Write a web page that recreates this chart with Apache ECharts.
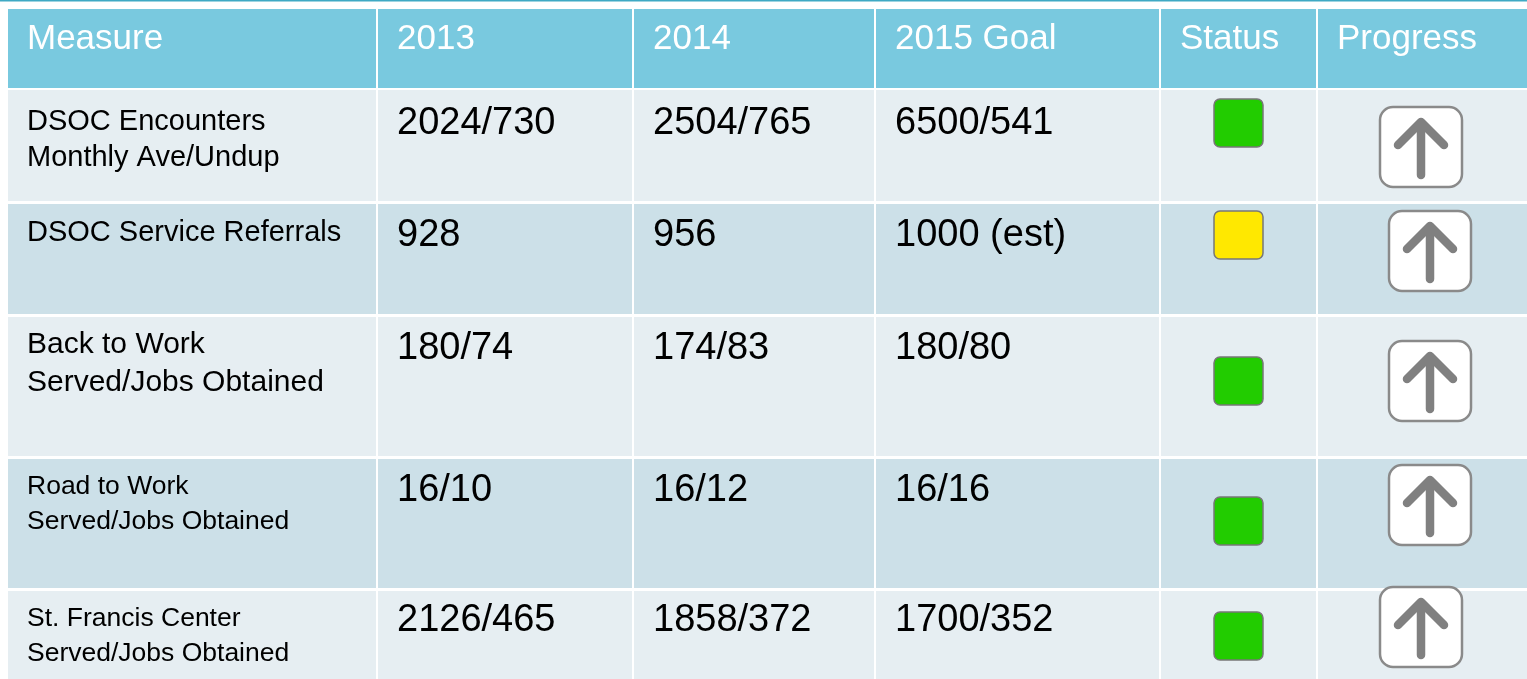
<!DOCTYPE html>
<html>
<head>
<meta charset="utf-8">
<script src="https://cdn.jsdelivr.net/npm/echarts@6/dist/echarts.min.js"></script>
<style>
	html, body { margin: 0; padding: 0; background: #fff; }
	#chart { width: 1527px; height: 679px; }
</style>
</head>
<body>
<div id="chart"></div>
<script>
// table contents
const headers = ["Measure", "2013", "2014", "2015 Goal", "Status", "Progress"];
const measures = [
	["DSOC Encounters", "Monthly Ave/Undup"],
	["DSOC Service Referrals"],
	["Back to Work", "Served/Jobs Obtained"],
	["Road to Work", "Served/Jobs Obtained"],
	["St. Francis Center", "Served/Jobs Obtained"]
];
const values2013 = ["2024/730", "928", "180/74", "16/10", "2126/465"];
const values2014 = ["2504/765", "956", "174/83", "16/12", "1858/372"];
const goals2015 = ["6500/541", "1000 (est)", "180/80", "16/16", "1700/352"];
const status = ["green", "yellow", "green", "green", "green"];
const progress = ["up", "up", "up", "up", "up"];

// layout (pixel units of the hidden value axes)
const colLeft = [8, 378, 634, 876, 1161, 1318];
const colRight = [376, 632, 874, 1159, 1316, 1527];
const rowTop = [9, 90, 204, 317, 459, 591];
const rowBottom = [88, 201, 314, 456, 588, 679];
const rowFill = ["#79c9df", "#e6eef2", "#cce0e8", "#e6eef2", "#cce0e8", "#e6eef2"];
const headerBase = 51;
const measureFont = [29, 29, 30, 26.5, 26.5];
const measureBase = [[131.7, 168.3], [243.3], [355, 393.3], [496, 530.7], [628.3, 663.3]];
const numberBase = [136.7, 248.3, 361.7, 503.3, 634];
const statusTop = [99, 211, 357, 497, 612];
const arrowLeft = [1380, 1389, 1389, 1389, 1380];
const arrowTop = [107, 211, 341, 465, 587];
const statusColor = { green: "#22cc00", yellow: "#ffe800" };

const FONT = "'Liberation Sans', Arial, sans-serif";

// text placed by its baseline; zrender centres the line on y, the em middle sits ~0.35em above baseline
function textAt(api, x, base, str, size, color) {
	const p = api.coord([x, base]);
	return {
		type: "text",
		style: {
			x: p[0], y: p[1] - 0.3465 * size, text: str,
			font: size + "px " + FONT, fill: color, align: "left", verticalAlign: "middle"
		}
	};
}

function renderRow(params, api) {
	const r = params.dataIndex;
	const children = [];
	const c = (x, y) => api.coord([x, y]);
	for (let k = 0; k < 6; k++) {
		const p0 = c(colLeft[k], rowTop[r]);
		const p1 = c(colRight[k], rowBottom[r]);
		children.push({
			type: "rect",
			shape: { x: p0[0], y: p0[1], width: p1[0] - p0[0], height: p1[1] - p0[1] },
			style: { fill: rowFill[r] }
		});
	}
	if (r === 0) {
		headers.forEach((h, k) => {
			children.push(textAt(api, colLeft[k] + 19, headerBase, h, 35, "#fff"));
		});
		return { type: "group", children };
	}
	const i = r - 1;
	measures[i].forEach((line, j) => {
		children.push(textAt(api, colLeft[0] + 19, measureBase[i][j], line, measureFont[i], "#000"));
	});
	[values2013[i], values2014[i], goals2015[i]].forEach((v, k) => {
		children.push(textAt(api, colLeft[k + 1] + 19, numberBase[i], v, 38, "#000"));
	});
	// status square
	const s0 = c(1214, statusTop[i]);
	const s1 = c(1263, statusTop[i] + 48);
	children.push({
		type: "rect",
		shape: { x: s0[0], y: s0[1], width: s1[0] - s0[0], height: s1[1] - s0[1], r: 6 },
		style: { fill: statusColor[status[i]], stroke: "#777", lineWidth: 1.5 }
	});
	// progress arrow
	if (progress[i] === "up") {
		const a0 = c(arrowLeft[i], arrowTop[i]);
		const a1 = c(arrowLeft[i] + 82, arrowTop[i] + 80);
		const cx = (a0[0] + a1[0]) / 2;
		children.push({
			type: "rect",
			shape: { x: a0[0], y: a0[1], width: a1[0] - a0[0], height: a1[1] - a0[1], r: 13 },
			style: { fill: "#fff", stroke: "#8a8a8a", lineWidth: 2.5 }
		});
		children.push({
			type: "line",
			shape: { x1: cx, y1: a0[1] + 16, x2: cx, y2: a0[1] + 68 },
			style: { stroke: "#808080", lineWidth: 8.5, lineCap: "round" }
		});
		children.push({
			type: "polyline",
			shape: { points: [[cx - 23, a0[1] + 38], [cx, a0[1] + 15], [cx + 23, a0[1] + 38]] },
			style: { stroke: "#808080", fill: null, lineWidth: 8.5, lineCap: "round", lineJoin: "round" }
		});
	}
	return { type: "group", children };
}

const chart = echarts.init(document.getElementById("chart"));
const option = {
	animation: false,
	backgroundColor: "#fff",
	grid: { left: 0, right: 0, top: 0, bottom: 0 },
	xAxis: { type: "value", min: 0, max: 1527, show: false },
	yAxis: { type: "value", min: 0, max: 679, inverse: true, show: false },
	graphic: [
		{ type: "rect", shape: { x: 0, y: 0, width: 1527, height: 1.5 }, style: { fill: "#3fa9c4" } }
	],
	series: [
		{
			type: "custom",
			silent: true,
			renderItem: renderRow,
			data: rowTop.map((_, r) => [r])
		}
	]
};
chart.setOption(option);
</script>
</body>
</html>
